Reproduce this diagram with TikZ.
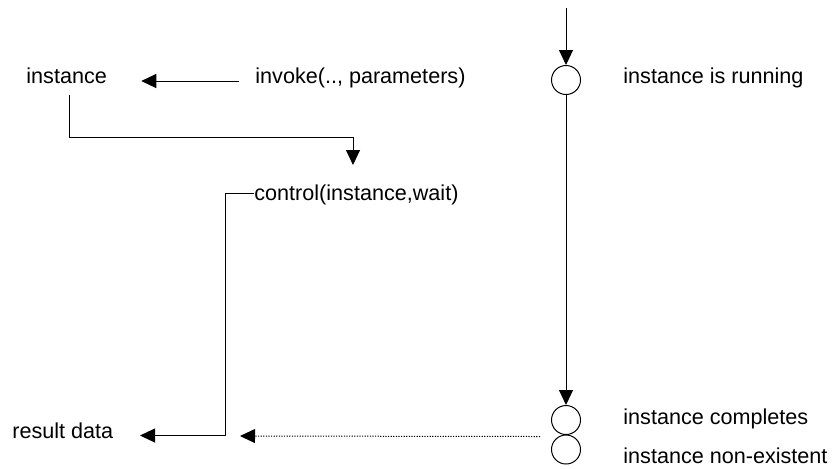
\documentclass[tikz,border=0pt]{standalone}
\usepackage{fontspec}
\setmainfont{Liberation Sans}
\usetikzlibrary{arrows.meta}

\begin{document}
\begin{tikzpicture}[x=0.5pt,y=-0.5pt,
	lbl/.style={anchor=base west,inner sep=0pt,font=\fontsize{10.8}{13}\selectfont},
	state/.style={shape=circle,draw=black,line width=0.5pt,minimum size=14.5pt,inner sep=0pt},
	flow/.style={line width=0.5pt,-{Triangle[length=7.5pt,width=7pt]}}]
	\useasboundingbox (0,0) rectangle (833,468);

	\node[lbl] (inst)      at (26, 83)   {instance};
	\node[lbl] (invoke)    at (255, 83)  {invoke(.., parameters)};
	\node[lbl] (control)   at (254, 200) {control(instance,wait)};
	\node[lbl] (result)    at (12, 438)  {result data};
	\node[lbl] (running)   at (623, 83)  {instance is running};
	\node[lbl] (completes) at (623, 424) {instance completes};
	\node[lbl] (gone)      at (623, 463) {instance non-existent};

	\node[state] (run)  at (566, 80)    {};
	\node[state] (done) at (566, 420)   {};
	\node[state] (none) at (566, 449.5) {};
	\coordinate (start) at (566, 8);

	\draw[flow] (start) -- (run);
	\draw[flow] (run) -- (done);
	\draw[flow] ([shift={(-16,-2)}]invoke.base west) -- ([shift={(34,-2)}]inst.base east);
	\draw[flow] ([shift={(43,12)}]inst.base west) |- ([shift={(99,-63)}]control.base west)
		-- ([shift={(99,-35)}]control.base west);
	\draw[flow] ([shift={(0,-6.5)}]control.base west) -- ++(-29,0)
		|- ([shift={(128,-2.5)}]result.base west);
	\draw[flow,dash pattern=on 0.6pt off 0.7pt] ([shift={(-26,1.5)}]done.south)
		-- ([shift={(228,-2)}]result.base west);

\end{tikzpicture}
\end{document}
